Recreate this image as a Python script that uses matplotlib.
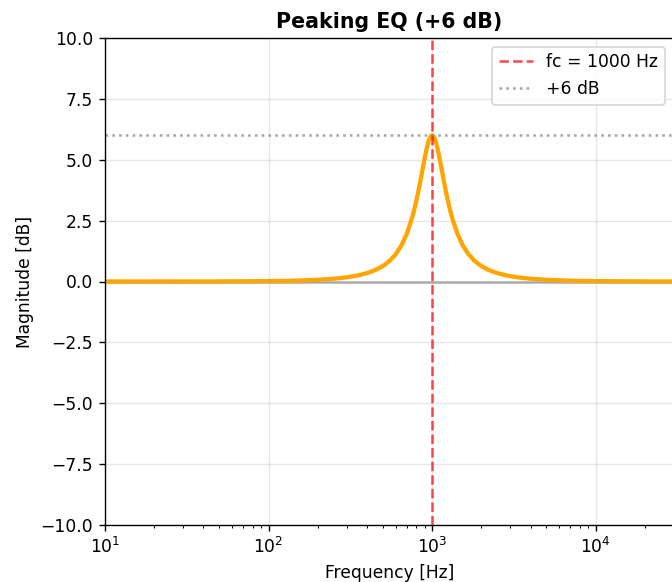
"""Peaking EQ magnitude response, redrawn from a saved figure."""

import matplotlib

matplotlib.use("Agg")

import matplotlib.pyplot as plt
import numpy as np


FC_HZ = 1000
GAIN_DB = 6.0

# magnitude (Hz, dB)
FREQ_HZ = [
    10, 20, 30, 50, 70, 100, 125, 150, 200, 250, 300, 350, 400, 450, 500,
    550, 600, 650, 700, 750, 775, 800, 825, 850, 875, 900, 925, 940, 950,
    960, 975, 990, 1000, 1010, 1026, 1042, 1053, 1064, 1081, 1111, 1143,
    1176, 1212, 1250, 1290, 1333, 1429, 1538, 1667, 1818, 2000, 2222, 2500,
    2857, 3333, 4000, 5000, 6667, 8000, 10000, 14286, 20000, 30000,
]
MAG_DB = [
    0.000, 0.001, 0.0015, 0.004, 0.008, 0.017, 0.026, 0.038, 0.070, 0.113,
    0.171, 0.246, 0.344, 0.470, 0.634, 0.847, 1.125, 1.487, 1.957, 2.558,
    2.913, 3.303, 3.724, 4.168, 4.617, 5.050, 5.435, 5.630, 5.740, 5.832,
    5.934, 5.989, 6.000, 5.989, 5.934, 5.832, 5.740, 5.630, 5.435, 5.050,
    4.617, 4.168, 3.724, 3.303, 2.913, 2.558, 1.957, 1.487, 1.125, 0.847,
    0.634, 0.470, 0.344, 0.246, 0.171, 0.113, 0.070, 0.038, 0.026, 0.017,
    0.008, 0.004, 0.002,
]

DPI = 123
FIG_W_PX, FIG_H_PX = 672, 582


def main() -> None:
    fig = plt.figure(figsize=(FIG_W_PX / DPI, FIG_H_PX / DPI), dpi=DPI)
    ax = fig.add_axes([105 / 672, 1 - 525 / 582, 568.7 / 672, 487 / 582])

    freq = np.asarray(FREQ_HZ, dtype=float)
    mag = np.asarray(MAG_DB, dtype=float)

    ax.axhline(0, color="gray", alpha=0.6, linewidth=1.5)
    ax.semilogx(freq, mag, color="orange", linewidth=2.5)
    ax.axvline(FC_HZ, color="red", linestyle="--", alpha=0.7, linewidth=1.5,
               label=f"fc = {FC_HZ} Hz")
    ax.axhline(GAIN_DB, color="gray", linestyle=":", alpha=0.7, linewidth=1.5,
               label="+6 dB")

    ax.set_xlim(10, 30000)
    ax.set_ylim(-10, 10)
    ax.grid(True, which="major", alpha=0.3)
    ax.set_xlabel("Frequency [Hz]")
    ax.set_ylabel("Magnitude [dB]")
    ax.set_title("Peaking EQ (+6 dB)", fontweight="bold")
    ax.legend(loc="upper right")

    fig.savefig("out.png", dpi=DPI)
    plt.close(fig)


if __name__ == "__main__":
    main()
